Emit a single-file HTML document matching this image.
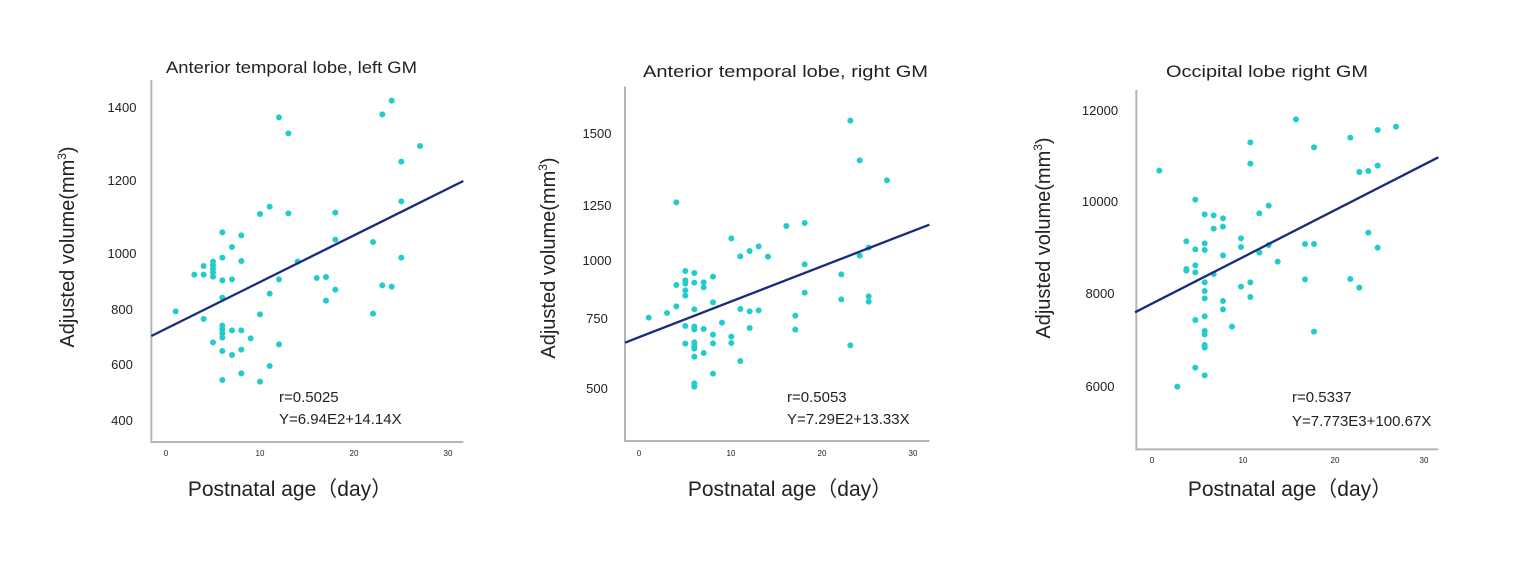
<!DOCTYPE html>
<html><head><meta charset="utf-8"><style>
html,body{margin:0;padding:0;background:#fff;}
svg text{font-family:"Liberation Sans","Noto Sans CJK SC",sans-serif;fill:#222;}
</style></head><body>
<svg width="1526" height="577" viewBox="0 0 1526 577" xmlns="http://www.w3.org/2000/svg">
<rect width="1526" height="577" fill="#fff"/>

<!-- Panel 1 -->
<text x="166" y="73" font-size="17" textLength="251" lengthAdjust="spacingAndGlyphs">Anterior temporal lobe, left GM</text>
<g font-size="13" text-anchor="middle">
<text x="122" y="112">1400</text><text x="122" y="185">1200</text><text x="122" y="258">1000</text>
<text x="122" y="314">800</text><text x="122" y="369">600</text><text x="122" y="425">400</text>
</g>
<g font-size="8" text-anchor="middle">
<text x="166" y="456">0</text><text x="260" y="456">10</text><text x="354" y="456">20</text><text x="448" y="456">30</text>
</g>
<text transform="translate(74,247) rotate(-90)" font-size="20" text-anchor="middle">Adjusted volume(mm<tspan font-size="12" dy="-8">3</tspan><tspan dy="8">)</tspan></text>
<text x="290" y="496" font-size="21" text-anchor="middle">Postnatal age（day）</text>
<g transform="translate(140,80) scale(0.33333)">
<path d="M34,0 V1086 H970" fill="none" stroke="#b5b5b5" stroke-width="6"/>
<g fill="#20cccc">
<circle cx="107" cy="694" r="9"/><circle cx="163" cy="584" r="9"/><circle cx="191" cy="584" r="9"/><circle cx="191" cy="558" r="9"/><circle cx="219" cy="545" r="9"/><circle cx="219" cy="556" r="9"/><circle cx="219" cy="567" r="9"/><circle cx="219" cy="578" r="9"/><circle cx="219" cy="590" r="9"/><circle cx="191" cy="717" r="9"/><circle cx="219" cy="787" r="9"/><circle cx="247" cy="457" r="9"/><circle cx="247" cy="533" r="9"/><circle cx="247" cy="601" r="9"/><circle cx="247" cy="653" r="9"/><circle cx="247" cy="737" r="9"/><circle cx="247" cy="748" r="9"/><circle cx="247" cy="760" r="9"/><circle cx="247" cy="773" r="9"/><circle cx="247" cy="813" r="9"/><circle cx="247" cy="900" r="9"/><circle cx="276" cy="501" r="9"/><circle cx="276" cy="598" r="9"/><circle cx="276" cy="751" r="9"/><circle cx="276" cy="825" r="9"/><circle cx="304" cy="466" r="9"/><circle cx="304" cy="543" r="9"/><circle cx="304" cy="751" r="9"/><circle cx="304" cy="809" r="9"/><circle cx="304" cy="880" r="9"/><circle cx="332" cy="775" r="9"/><circle cx="360" cy="402" r="9"/><circle cx="360" cy="703" r="9"/><circle cx="360" cy="905" r="9"/><circle cx="389" cy="380" r="9"/><circle cx="389" cy="641" r="9"/><circle cx="389" cy="858" r="9"/><circle cx="417" cy="112" r="9"/><circle cx="417" cy="598" r="9"/><circle cx="417" cy="793" r="9"/><circle cx="445" cy="160" r="9"/><circle cx="445" cy="400" r="9"/><circle cx="473" cy="545" r="9"/><circle cx="530" cy="594" r="9"/><circle cx="558" cy="591" r="9"/><circle cx="558" cy="662" r="9"/><circle cx="586" cy="398" r="9"/><circle cx="586" cy="479" r="9"/><circle cx="586" cy="629" r="9"/><circle cx="699" cy="486" r="9"/><circle cx="699" cy="701" r="9"/><circle cx="727" cy="103" r="9"/><circle cx="727" cy="616" r="9"/><circle cx="755" cy="62" r="9"/><circle cx="755" cy="620" r="9"/><circle cx="784" cy="245" r="9"/><circle cx="784" cy="364" r="9"/><circle cx="784" cy="533" r="9"/><circle cx="840" cy="198" r="9"/>
</g>
<line x1="34" y1="768" x2="970" y2="303" stroke="#1b2b7c" stroke-width="7"/>
</g>
<text x="279" y="402" font-size="15">r=0.5025</text>
<text x="279" y="424" font-size="15">Y=6.94E2+14.14X</text>

<!-- Panel 2 -->
<text x="643" y="77" font-size="17" textLength="285" lengthAdjust="spacingAndGlyphs">Anterior temporal lobe, right GM</text>
<g font-size="13" text-anchor="middle">
<text x="597" y="138">1500</text><text x="597" y="210">1250</text><text x="597" y="265">1000</text>
<text x="597" y="323">750</text><text x="597" y="393">500</text>
</g>
<g font-size="8" text-anchor="middle">
<text x="639" y="456">0</text><text x="731" y="456">10</text><text x="822" y="456">20</text><text x="913" y="456">30</text>
</g>
<text transform="translate(555,258) rotate(-90)" font-size="20" text-anchor="middle">Adjusted volume(mm<tspan font-size="12" dy="-8">3</tspan><tspan dy="8">)</tspan></text>
<text x="790" y="496" font-size="21" text-anchor="middle">Postnatal age（day）</text>
<g transform="translate(615,80) scale(0.33333)">
<path d="M30,20 V1083 H943" fill="none" stroke="#b5b5b5" stroke-width="6"/>
<g fill="#20cccc">
<circle cx="101" cy="713" r="9"/><circle cx="156" cy="699" r="9"/><circle cx="184" cy="679" r="9"/><circle cx="184" cy="615" r="9"/><circle cx="184" cy="367" r="9"/><circle cx="211" cy="573" r="9"/><circle cx="211" cy="601" r="9"/><circle cx="211" cy="611" r="9"/><circle cx="211" cy="631" r="9"/><circle cx="211" cy="647" r="9"/><circle cx="211" cy="738" r="9"/><circle cx="211" cy="791" r="9"/><circle cx="238" cy="579" r="9"/><circle cx="238" cy="608" r="9"/><circle cx="238" cy="688" r="9"/><circle cx="238" cy="740" r="9"/><circle cx="238" cy="748" r="9"/><circle cx="238" cy="787" r="9"/><circle cx="238" cy="797" r="9"/><circle cx="238" cy="806" r="9"/><circle cx="238" cy="830" r="9"/><circle cx="238" cy="910" r="9"/><circle cx="238" cy="920" r="9"/><circle cx="266" cy="607" r="9"/><circle cx="266" cy="622" r="9"/><circle cx="266" cy="747" r="9"/><circle cx="266" cy="819" r="9"/><circle cx="294" cy="590" r="9"/><circle cx="294" cy="667" r="9"/><circle cx="294" cy="764" r="9"/><circle cx="294" cy="790" r="9"/><circle cx="294" cy="881" r="9"/><circle cx="321" cy="728" r="9"/><circle cx="349" cy="475" r="9"/><circle cx="349" cy="770" r="9"/><circle cx="349" cy="789" r="9"/><circle cx="376" cy="529" r="9"/><circle cx="376" cy="687" r="9"/><circle cx="376" cy="843" r="9"/><circle cx="404" cy="513" r="9"/><circle cx="404" cy="694" r="9"/><circle cx="404" cy="744" r="9"/><circle cx="431" cy="499" r="9"/><circle cx="431" cy="691" r="9"/><circle cx="459" cy="530" r="9"/><circle cx="514" cy="438" r="9"/><circle cx="541" cy="707" r="9"/><circle cx="541" cy="749" r="9"/><circle cx="569" cy="429" r="9"/><circle cx="569" cy="553" r="9"/><circle cx="569" cy="638" r="9"/><circle cx="679" cy="583" r="9"/><circle cx="679" cy="658" r="9"/><circle cx="706" cy="122" r="9"/><circle cx="706" cy="796" r="9"/><circle cx="734" cy="241" r="9"/><circle cx="734" cy="527" r="9"/><circle cx="761" cy="503" r="9"/><circle cx="761" cy="649" r="9"/><circle cx="761" cy="665" r="9"/><circle cx="816" cy="301" r="9"/>
</g>
<line x1="30" y1="788" x2="943" y2="434" stroke="#1b2b7c" stroke-width="7"/>
</g>
<text x="787" y="402" font-size="15">r=0.5053</text>
<text x="787" y="424" font-size="15">Y=7.29E2+13.33X</text>

<!-- Panel 3 -->
<text x="1166" y="77" font-size="17" textLength="202" lengthAdjust="spacingAndGlyphs">Occipital lobe right GM</text>
<g font-size="13" text-anchor="middle">
<text x="1100" y="115">12000</text><text x="1100" y="206">10000</text><text x="1100" y="298">8000</text><text x="1100" y="391">6000</text>
</g>
<g font-size="8" text-anchor="middle">
<text x="1152" y="463">0</text><text x="1243" y="463">10</text><text x="1335" y="463">20</text><text x="1424" y="463">30</text>
</g>
<text transform="translate(1050,238) rotate(-90)" font-size="20" text-anchor="middle">Adjusted volume(mm<tspan font-size="12" dy="-8">3</tspan><tspan dy="8">)</tspan></text>
<text x="1290" y="496" font-size="21" text-anchor="middle">Postnatal age（day）</text>
<g transform="translate(1125,80) scale(0.33333)">
<path d="M34,30 V1108 H940" fill="none" stroke="#b5b5b5" stroke-width="6"/>
<g fill="#20cccc">
<circle cx="103" cy="272" r="9"/><circle cx="157" cy="920" r="9"/><circle cx="184" cy="484" r="9"/><circle cx="184" cy="567" r="9"/><circle cx="184" cy="572" r="9"/><circle cx="211" cy="359" r="9"/><circle cx="211" cy="508" r="9"/><circle cx="211" cy="556" r="9"/><circle cx="211" cy="577" r="9"/><circle cx="211" cy="720" r="9"/><circle cx="211" cy="863" r="9"/><circle cx="239" cy="403" r="9"/><circle cx="239" cy="490" r="9"/><circle cx="239" cy="510" r="9"/><circle cx="239" cy="607" r="9"/><circle cx="239" cy="633" r="9"/><circle cx="239" cy="655" r="9"/><circle cx="239" cy="709" r="9"/><circle cx="239" cy="753" r="9"/><circle cx="239" cy="763" r="9"/><circle cx="239" cy="795" r="9"/><circle cx="239" cy="803" r="9"/><circle cx="239" cy="886" r="9"/><circle cx="266" cy="406" r="9"/><circle cx="266" cy="446" r="9"/><circle cx="266" cy="582" r="9"/><circle cx="294" cy="415" r="9"/><circle cx="294" cy="440" r="9"/><circle cx="294" cy="526" r="9"/><circle cx="294" cy="663" r="9"/><circle cx="294" cy="688" r="9"/><circle cx="321" cy="740" r="9"/><circle cx="348" cy="475" r="9"/><circle cx="348" cy="501" r="9"/><circle cx="348" cy="620" r="9"/><circle cx="376" cy="187" r="9"/><circle cx="376" cy="251" r="9"/><circle cx="376" cy="607" r="9"/><circle cx="376" cy="651" r="9"/><circle cx="403" cy="400" r="9"/><circle cx="403" cy="518" r="9"/><circle cx="431" cy="377" r="9"/><circle cx="431" cy="495" r="9"/><circle cx="458" cy="545" r="9"/><circle cx="513" cy="118" r="9"/><circle cx="540" cy="492" r="9"/><circle cx="540" cy="598" r="9"/><circle cx="567" cy="202" r="9"/><circle cx="567" cy="492" r="9"/><circle cx="567" cy="755" r="9"/><circle cx="676" cy="173" r="9"/><circle cx="676" cy="597" r="9"/><circle cx="703" cy="276" r="9"/><circle cx="703" cy="623" r="9"/><circle cx="730" cy="273" r="9"/><circle cx="730" cy="458" r="9"/><circle cx="758" cy="150" r="9"/><circle cx="758" cy="257" r="9"/><circle cx="758" cy="503" r="9"/><circle cx="813" cy="140" r="9"/>
</g>
<line x1="30" y1="697" x2="940" y2="232" stroke="#1b2b7c" stroke-width="7"/>
</g>
<text x="1292" y="402" font-size="15">r=0.5337</text>
<text x="1292" y="426" font-size="15">Y=7.773E3+100.67X</text>
</svg>
</body></html>
